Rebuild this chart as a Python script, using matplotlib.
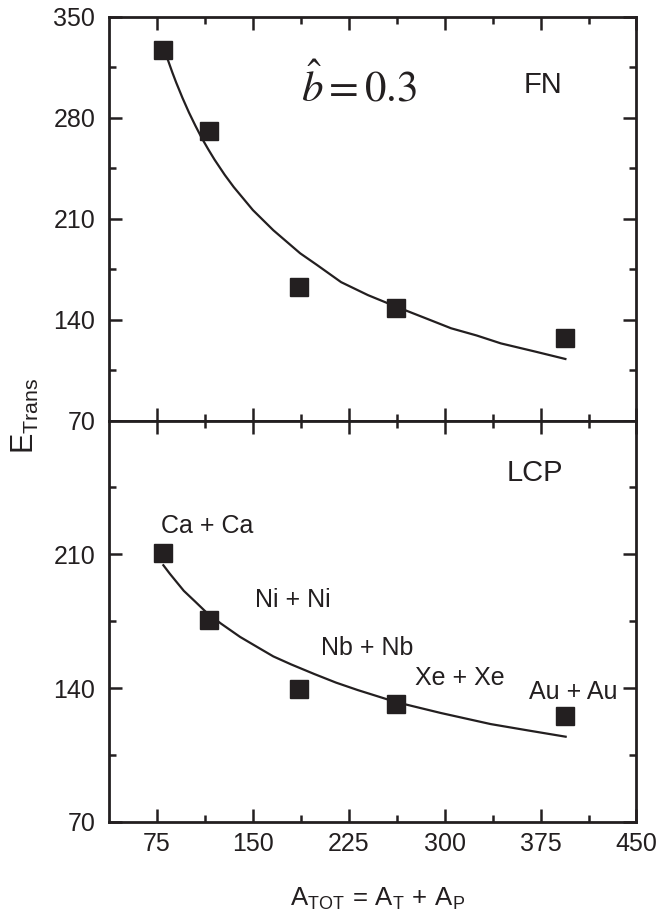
import matplotlib
matplotlib.use('Agg')
import matplotlib.pyplot as plt
from matplotlib.ticker import FixedLocator

# ---------------- data ----------------
A_TOT = [80, 116, 186, 262, 394]
systems = ['Ca + Ca', 'Ni + Ni', 'Nb + Nb', 'Xe + Xe', 'Au + Au']
E_FN = [327.0, 271.0, 162.4, 148.1, 127.3]
E_LCP = [210.9, 175.5, 139.5, 131.5, 125.4]

# fitted curves, points
fit_x_fn = [83.6, 87, 90, 95, 100, 105, 110, 115, 120, 128, 135, 150, 166,
            187, 200, 219, 240, 262, 285, 305, 325, 344, 370, 394.4]
fit_y_fn = [320.0, 311.5, 304.5, 293.7, 283.7, 274.6, 266.0, 258.3, 251.0,
            240.4, 232.0, 216.0, 202.0, 186.0, 178.0, 166.0, 157.0, 149.0,
            141.0, 134.0, 129.0, 123.5, 118.0, 112.7]
fit_x_lcp = [80, 85, 90, 96, 105, 114, 125, 140, 155, 166, 180, 198, 215, 232,
             262, 297, 336, 365, 394.6]
fit_y_lcp = [204.3, 199.9, 195.8, 190.9, 185.2, 179.4, 173.8, 166.8, 160.9,
             156.6, 152.4, 147.4, 142.9, 139.0, 132.7, 127.0, 121.2, 117.9, 114.6]

# label positions (data coords, left/baseline)
label_x = [78, 152, 203, 276.5, 366]
label_y = [221.4, 182.2, 157.6, 141.9, 134.3]

x_major = [75, 150, 225, 300, 375, 450]
x_minor = [112.5, 187.5, 262.5, 337.5, 412.5]
top_yticks = [70, 140, 210, 280, 350]
top_yminor = [105, 175, 245, 315]
bot_yticks = [70, 140, 210]
bot_yminor = [105, 175, 245]

INK = '#231f20'

plt.rcParams['font.family'] = ['Liberation Sans', 'DejaVu Sans']
plt.rcParams['mathtext.fontset'] = 'custom'
plt.rcParams['mathtext.rm'] = 'Liberation Sans'
plt.rcParams['mathtext.it'] = 'Liberation Sans:italic'
plt.rcParams['mathtext.bf'] = 'Liberation Sans:bold'

fig = plt.figure(figsize=(6.58, 9.14), dpi=100)
ax_top = fig.add_axes([0.1657, 0.5399, 0.8016, 0.4416])
ax_bot = fig.add_axes([0.1657, 0.1007, 0.8016, 0.4392])

for ax in (ax_top, ax_bot):
    ax.set_xlim(37.5, 450)
    ax.xaxis.set_major_locator(FixedLocator(x_major))
    ax.xaxis.set_minor_locator(FixedLocator(x_minor))
    ax.tick_params(which='both', direction='in', top=True, right=True,
                   width=1.8, color=INK, labelsize=18, labelcolor=INK)
    ax.tick_params(which='major', length=9.5)
    ax.tick_params(which='minor', length=5.2)
    ax.tick_params(axis='x', pad=7)
    ax.tick_params(axis='y', pad=10)
    for s in ax.spines.values():
        s.set_linewidth(2.0)
        s.set_color(INK)

ax_top.set_ylim(70, 350)
ax_top.yaxis.set_major_locator(FixedLocator(top_yticks))
ax_top.yaxis.set_minor_locator(FixedLocator(top_yminor))
ax_top.tick_params(axis='x', labelbottom=False)

ax_bot.set_ylim(70, 280)
ax_bot.yaxis.set_major_locator(FixedLocator(bot_yticks))
ax_bot.yaxis.set_minor_locator(FixedLocator(bot_yminor))

ax_top.plot(fit_x_fn, fit_y_fn, '-', color=INK, lw=1.6, zorder=2)
ax_top.plot(A_TOT, E_FN, 's', ms=13.5, color=INK, zorder=3)
ax_bot.plot(fit_x_lcp, fit_y_lcp, '-', color=INK, lw=1.6, zorder=2)
ax_bot.plot(A_TOT, E_LCP, 's', ms=13.5, color=INK, zorder=3)

for name, lx, ly in zip(systems, label_x, label_y):
    ax_bot.text(lx, ly, name, fontsize=18, color=INK, ha='left', va='baseline')

ax_top.text(362, 296.9, 'FN', fontsize=21, color=INK, ha='left', va='baseline')
ax_bot.text(348.5, 248.3, 'LCP', fontsize=21, color=INK, ha='left', va='baseline')
ax_top.text(187.4, 291.1, r'$\hat{b}=0.3$', fontsize=31, color=INK,
            ha='left', va='baseline', math_fontfamily='stix')

fig.text(10 / 658, 1 - 416 / 914, r'$\mathregular{E_{Trans}}$', rotation=90,
         fontsize=22, color=INK, ha='left', va='center')
fig.text(378 / 658, 1 - 906 / 914, r'$\mathregular{A_{TOT}\,=\,A_T\,+\,A_P}$',
         fontsize=18.5, color=INK, ha='center', va='baseline')

fig.savefig('out.png', dpi=100)
